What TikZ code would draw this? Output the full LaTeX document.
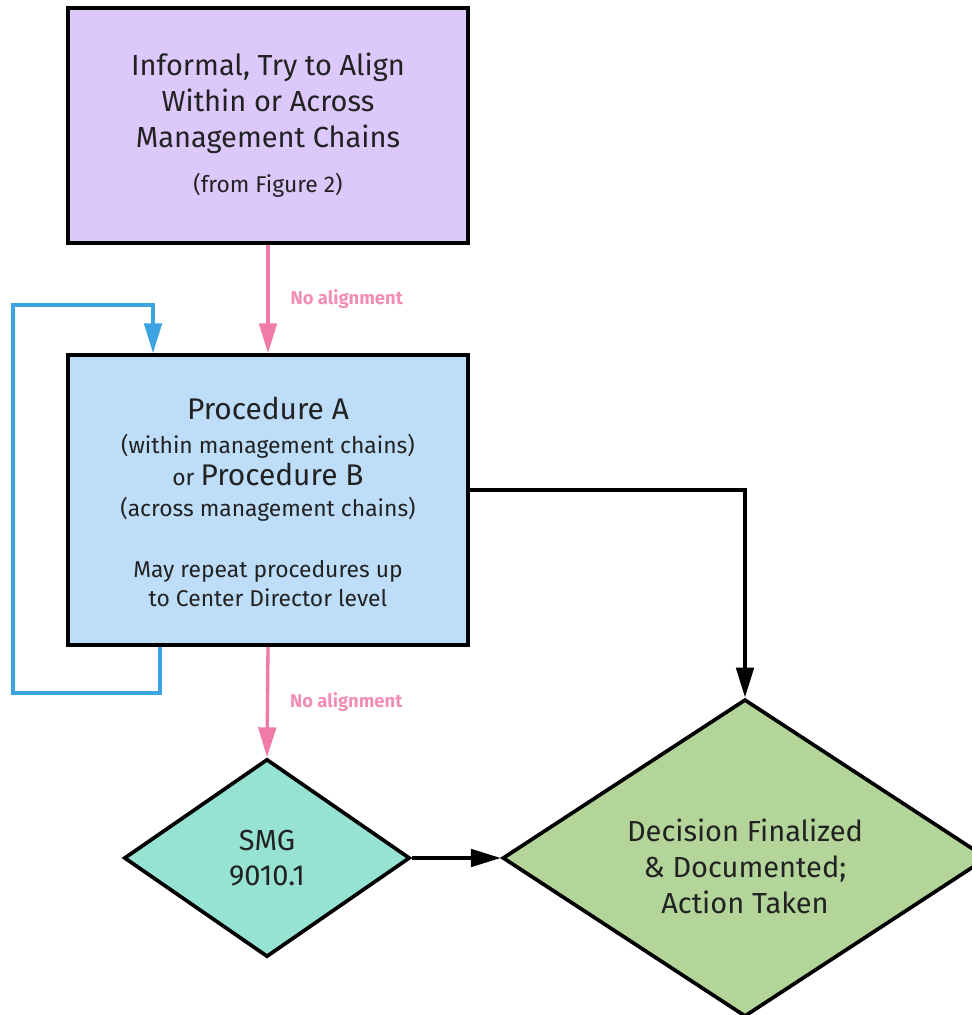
\documentclass[tikz,border=0pt]{standalone}
\usepackage{fontspec}
\setmainfont{Fira Sans}
\usetikzlibrary{arrows.meta,shapes.geometric}
\definecolor{lilacfill}{HTML}{DCC8FA}
\definecolor{skyfill}{HTML}{BDDDF9}
\definecolor{tealfill}{HTML}{96E2D3}
\definecolor{leaffill}{HTML}{B3D59A}
\definecolor{pinkline}{HTML}{F07AA8}
\definecolor{blueline}{HTML}{3DA3E3}
\definecolor{inktext}{HTML}{222222}

\begin{document}
\begin{tikzpicture}[x=0.02cm, y=-0.02cm,
  box/.style={draw=black, line width=2.1pt, minimum width=8cm, inner sep=0pt, align=center, text=inktext},
  choice/.style={diamond, draw=black, line width=2.1pt, inner sep=0pt, align=center, text=inktext},
  flow/.style={line width=1.9pt, -{Triangle[length=17pt,width=10pt]}},
  note/.style={font=\fontsize{10.5}{12}\selectfont\bfseries, text=pinkline!85, anchor=west, xshift=0.3cm}]
  \useasboundingbox (0,0) rectangle (972,1015);

  % boxes
  \node[box, fill=lilacfill, minimum height=4.7cm, font=\fontsize{16.5}{20.5}\selectfont] (informal) at (268,125.5)
    {Informal, Try to Align\\Within or Across\\Management Chains\\[5pt]{\fontsize{13}{14}\selectfont (from Figure 2)}};
  \node[box, fill=skyfill, minimum height=5.8cm, font=\fontsize{13}{17.5}\selectfont] (proc) at (268,500)
    {\mbox{}\\[-3pt]{\fontsize{17}{17}\selectfont Procedure A}\\[2pt]
     (within management chains)\\[1pt]
     or {\fontsize{17}{17}\selectfont Procedure B}\\[0pt]
     (across management chains)\\[17pt]
     May repeat procedures up\\[-1pt]
     to Center Director level};

  % diamonds
  \node[choice, fill=tealfill, minimum width=5.72cm, minimum height=3.96cm, font=\fontsize{16.5}{20}\selectfont] (smg) at (267,858)
    {SMG\\9010.1};
  \node[choice, aspect=1.53, fill=leaffill, minimum width=9.7cm, minimum height=6.35cm, font=\fontsize{16.5}{20.5}\selectfont] (done) at (745,858)
    {\mbox{}\\[2pt]Decision Finalized\\\& Documented;\\Action Taken};

  % loop back
  \coordinate (loopa) at (13,693);
  \coordinate (loopb) at (13,305);
  \draw[flow, blueline] ([xshift=-2.16cm]proc.south) |- (loopa) -- (loopb) -| ([xshift=-2.3cm]proc.north);

  % connectors
  \draw[flow, pinkline] (informal.south) -- node[note] {No alignment} (proc.north);
  \draw[flow, pinkline] (proc.south) -- node[note] {No alignment} (smg.north);
  \draw[flow, black] ([yshift=0.2cm]proc.east) -| (done.north);
  \draw[flow, black] (smg.east) -- (done.west);
\end{tikzpicture}
\end{document}
